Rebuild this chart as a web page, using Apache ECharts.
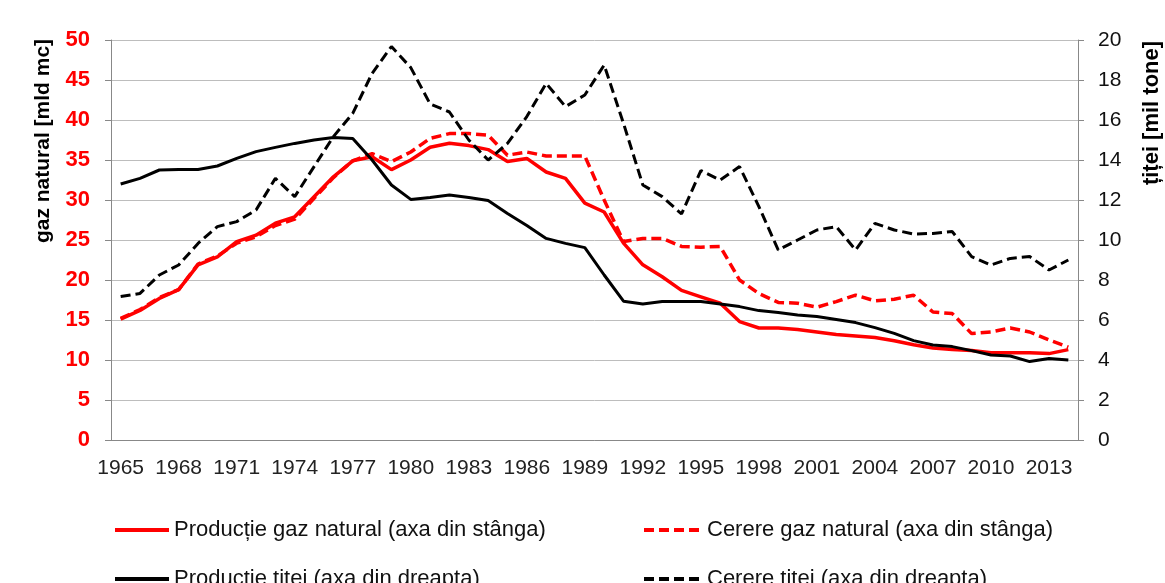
<!DOCTYPE html>
<html lang="ro">
<head>
    <meta charset="UTF-8">
    <script type="text/javascript" src="https://cdn.jsdelivr.net/npm/echarts@6/dist/echarts.min.js"></script>
    <title>gaz natural si titei</title>
    <style>
        html, body { margin: 0; padding: 0; background: #fff; }
        #chart { width: 1165px; height: 583px; }
    </style>
</head>
<body>
<div id="chart"></div>
<script type="text/javascript">
    // ani 1965 - 2014
    var years = [];
    for (var y = 1965; y <= 2014; y++) years.push(String(y));

    // gaz natural [mld mc] - axa din stanga
    var productieGaz = [15.1, 16.2, 17.7, 18.8, 21.9, 22.9, 24.8, 25.6, 27.1, 27.9,
        30.4, 32.9, 34.9, 35.4, 33.8, 35.0, 36.6, 37.1, 36.8, 36.3,
        34.8, 35.2, 33.5, 32.7, 29.6, 28.5, 24.6, 21.9, 20.4, 18.7,
        17.9, 17.1, 14.8, 14.0, 14.0, 13.8, 13.5, 13.2, 13.0, 12.8,
        12.4, 11.9, 11.5, 11.3, 11.2, 10.9, 10.9, 10.9, 10.8, 11.3];
    var cerereGaz = [15.2, 16.3, 17.8, 18.8, 22.0, 23.0, 24.6, 25.4, 26.8, 27.6,
        30.2, 32.8, 34.9, 35.8, 34.8, 36.0, 37.7, 38.3, 38.3, 38.1,
        35.6, 36.0, 35.5, 35.5, 35.5, 30.0, 24.8, 25.2, 25.2, 24.2,
        24.1, 24.2, 20.0, 18.3, 17.2, 17.1, 16.6, 17.3, 18.1, 17.4,
        17.6, 18.1, 16.0, 15.8, 13.3, 13.5, 14.0, 13.5, 12.5, 11.6];

    // titei [mil tone] - axa din dreapta
    var productieTitei = [12.8, 13.08, 13.5, 13.53, 13.53, 13.7, 14.08, 14.42, 14.63, 14.83,
        15.0, 15.12, 15.08, 14.0, 12.75, 12.03, 12.13, 12.25, 12.13, 11.97,
        11.33, 10.72, 10.08, 9.83, 9.62, 8.25, 6.94, 6.8, 6.92, 6.92,
        6.92, 6.8, 6.67, 6.47, 6.38, 6.25, 6.17, 6.03, 5.87, 5.62,
        5.33, 4.97, 4.75, 4.67, 4.47, 4.25, 4.2, 3.92, 4.08, 4.0];
    var cerereTitei = [7.17, 7.33, 8.25, 8.75, 9.83, 10.67, 10.92, 11.5, 13.08, 12.17,
        13.67, 15.17, 16.33, 18.33, 19.67, 18.62, 16.8, 16.4, 15.0, 14.0,
        14.83, 16.17, 17.83, 16.67, 17.25, 18.75, 15.83, 12.75, 12.17, 11.3,
        13.47, 13.0, 13.67, 11.67, 9.5, 10.0, 10.5, 10.67, 9.5, 10.83,
        10.5, 10.3, 10.33, 10.42, 9.17, 8.75, 9.08, 9.17, 8.5, 9.0];

    var names = [
        'Producție gaz natural (axa din stânga)',
        'Cerere gaz natural (axa din stânga)',
        'Producție țiței (axa din dreapta)',
        'Cerere țiței (axa din dreapta)'
    ];

    var font = 'Liberation Sans, Arial, sans-serif';
    var dash = [10, 5];

    // o legenda pentru fiecare serie, asezate pe doua coloane
    function legendItem(name, left, top, w) {
        return {
            left: left,
            top: top,
            itemWidth: w,
            itemHeight: 14,
            data: [name],
            itemStyle: {opacity: 0},
            lineStyle: {width: 4},
            textStyle: {fontSize: 22, color: '#111', fontFamily: font}
        };
    }

    var chart = echarts.init(document.getElementById('chart'), null, {renderer: 'canvas'});
    chart.setOption({
        backgroundColor: '#fff',
        animation: false,
        textStyle: {fontFamily: font},
        grid: {left: 111, right: 87, top: 40, bottom: 143},
        legend: [
            legendItem(names[0], 108, 514, 54),
            legendItem(names[2], 108, 563, 54),
            legendItem(names[1], 637, 514, 58),
            legendItem(names[3], 637, 563, 58)
        ],
        xAxis: {
            type: 'category',
            data: years,
            boundaryGap: true,
            axisLine: {lineStyle: {color: '#888', width: 1}},
            axisTick: {interval: 0, length: 5, lineStyle: {color: '#888'}},
            axisLabel: {interval: 2, fontSize: 21, color: '#222', margin: 18, fontFamily: font}
        },
        yAxis: [{
            type: 'value',
            min: 0,
            max: 50,
            interval: 5,
            axisLine: {show: true, lineStyle: {color: '#888'}},
            axisTick: {show: true, length: 6, lineStyle: {color: '#888'}},
            axisLabel: {fontSize: 22, fontWeight: 'bold', color: '#f00', margin: 21, fontFamily: font},
            splitLine: {lineStyle: {color: '#bdbdbd', width: 1}}
        }, {
            type: 'value',
            min: 0,
            max: 20,
            interval: 2,
            position: 'right',
            axisLine: {show: true, lineStyle: {color: '#888'}},
            axisTick: {show: true, length: 6, lineStyle: {color: '#888'}},
            axisLabel: {fontSize: 21, color: '#111', margin: 20, fontFamily: font},
            splitLine: {show: false}
        }],
        graphic: [{
            type: 'text',
            x: 43,
            y: 141,
            rotation: Math.PI / 2,
            style: {
                text: 'gaz natural [mld mc]',
                font: 'bold 21px ' + font,
                fill: '#000',
                textAlign: 'center',
                textVerticalAlign: 'middle'
            }
        }, {
            type: 'text',
            x: 1152,
            y: 113,
            rotation: Math.PI / 2,
            style: {
                text: 'țiței [mil tone]',
                font: 'bold 22px ' + font,
                fill: '#000',
                textAlign: 'center',
                textVerticalAlign: 'middle'
            }
        }],
        series: [{
            name: names[0],
            type: 'line',
            yAxisIndex: 0,
            data: productieGaz,
            symbol: 'none',
            lineStyle: {color: '#f00', width: 3.5},
            itemStyle: {color: '#f00'}
        }, {
            name: names[1],
            type: 'line',
            yAxisIndex: 0,
            data: cerereGaz,
            symbol: 'none',
            lineStyle: {color: '#f00', width: 3.5, type: dash},
            itemStyle: {color: '#f00'}
        }, {
            name: names[2],
            type: 'line',
            yAxisIndex: 1,
            data: productieTitei,
            symbol: 'none',
            lineStyle: {color: '#000', width: 3},
            itemStyle: {color: '#000'}
        }, {
            name: names[3],
            type: 'line',
            yAxisIndex: 1,
            data: cerereTitei,
            symbol: 'none',
            lineStyle: {color: '#000', width: 3, type: dash},
            itemStyle: {color: '#000'}
        }]
    });
</script>
</body>
</html>
